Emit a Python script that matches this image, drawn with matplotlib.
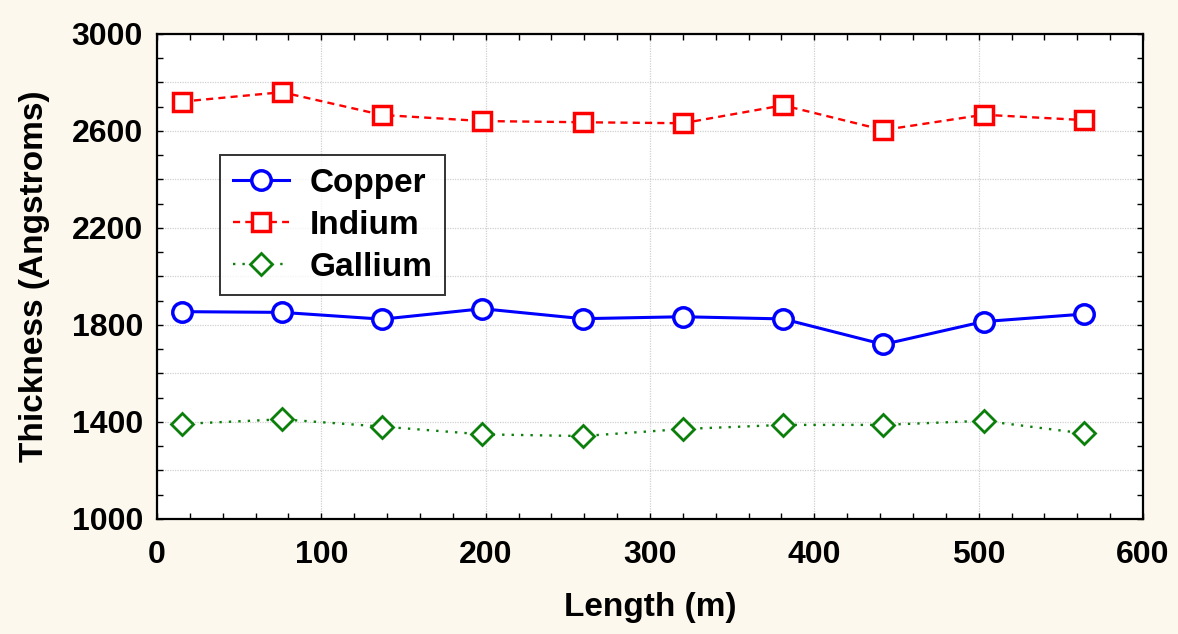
import numpy as np
import matplotlib
matplotlib.use("Agg")
import matplotlib.pyplot as plt
from matplotlib.ticker import MultipleLocator, FuncFormatter

# дані
length_m = [15, 76, 137, 198, 259, 320, 381, 442, 503, 564]
copper = [1855, 1852, 1824, 1867, 1826, 1834, 1825, 1720, 1814, 1845]
indium = [2721, 2760, 2666, 2641, 2636, 2632, 2706, 2604, 2667, 2645]
gallium = [1392, 1411, 1381, 1349, 1342, 1371, 1388, 1388, 1405, 1353]

plt.rcParams['font.family'] = ['Liberation Sans', 'DejaVu Sans']
plt.rcParams['font.weight'] = 'bold'
plt.rcParams['axes.labelweight'] = 'bold'

bg = '#fcf8ee'
fig = plt.figure(figsize=(11.78, 6.34), dpi=100, facecolor=bg)
ax = fig.add_axes([0.1333, 0.1814, 0.8370, 0.7650])
ax.set_facecolor('white')

ax.plot(length_m, copper, '-', color='#0000ff', lw=2.2, marker='o', ms=14,
        mfc='white', mec='#0000ff', mew=2.5, label='Copper', zorder=3)
ax.plot(length_m, indium, color='#ff0000', lw=1.7, ls=(0, (3.0, 2.2)), marker='s', ms=13.5,
        mfc='white', mec='#ff0000', mew=2.5, label='Indium', zorder=3)
ax.plot(length_m, gallium, color='#0a7f0a', lw=1.7, ls=(0, (1, 3.0)), marker='D', ms=11,
        mfc='white', mec='#0a7f0a', mew=2.0, label='Gallium', zorder=3)

ax.set_xlim(0, 600)
ax.set_ylim(1000, 3000)
ax.xaxis.set_major_locator(MultipleLocator(100))
ax.xaxis.set_minor_locator(MultipleLocator(20))
ax.yaxis.set_major_locator(MultipleLocator(200))
ax.yaxis.set_minor_locator(MultipleLocator(100))
# підписи лише через 400
ax.yaxis.set_major_formatter(FuncFormatter(lambda v, p: f'{int(v)}' if (int(v) - 1000) % 400 == 0 else ''))

ax.grid(True, which='major', color='#d0d0d0', ls=(0, (1, 1)), lw=0.9, zorder=0)
ax.tick_params(which='both', direction='in', top=True, right=True, length=4, width=1.0,
               labelsize=23, colors='black')
ax.tick_params(axis='x', pad=15)
ax.tick_params(axis='y', pad=10)
for s in ax.spines.values():
    s.set_linewidth(1.6)
    s.set_color('black')

ax.set_xlabel('Length (m)', fontsize=24, fontweight='bold', labelpad=16)
ax.set_ylabel('Thickness (Angstroms)', fontsize=24, fontweight='bold', labelpad=16)

leg = ax.legend(loc='upper left', bbox_to_anchor=(0.064, 0.7505), borderaxespad=0,
                fancybox=False, frameon=True, edgecolor='black',
                handlelength=1.7, handletextpad=0.6, labelspacing=0.33, borderpad=0.38,
                prop={'weight': 'bold', 'size': 24})
leg.get_frame().set_linewidth(1.4)

fig.savefig('out.png', dpi=100, facecolor=bg)
